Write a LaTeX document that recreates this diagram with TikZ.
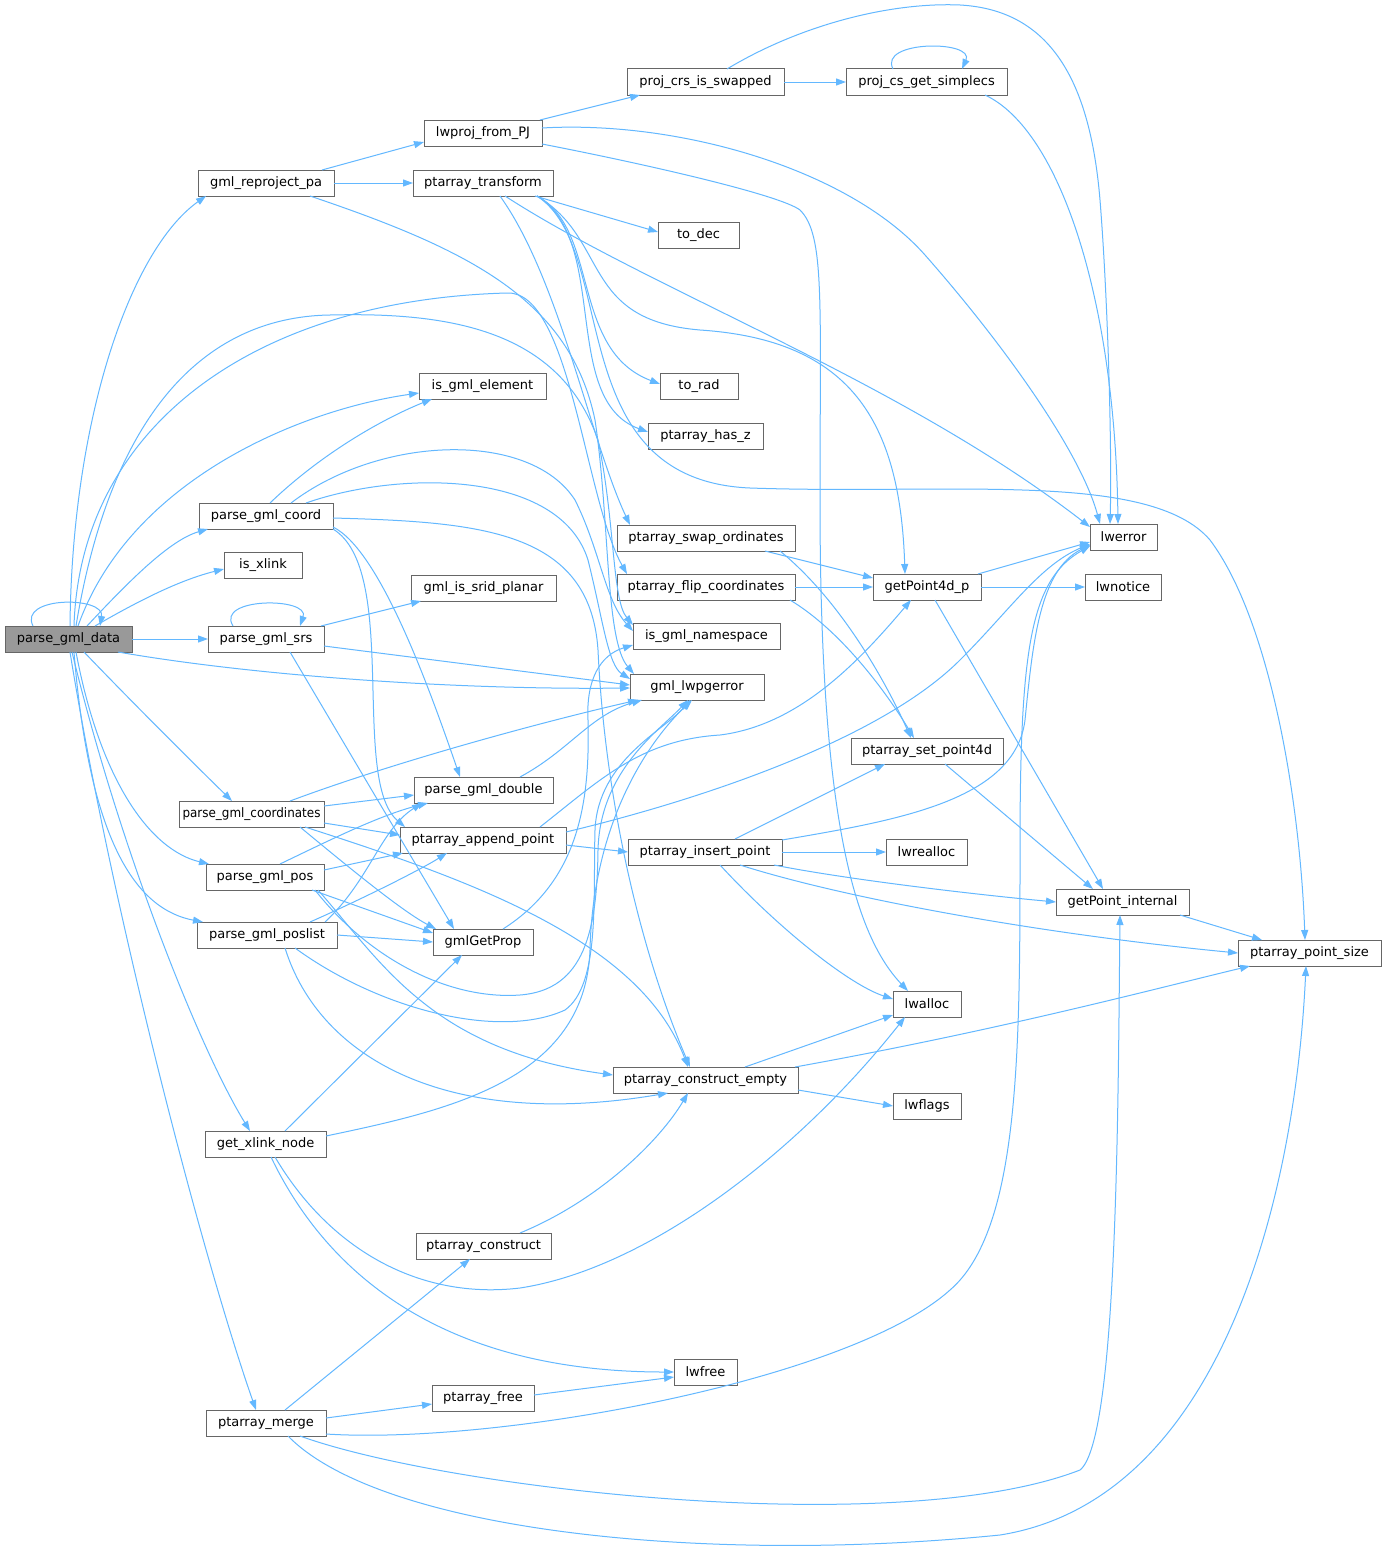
\documentclass[tikz,border=0pt]{standalone}
\usepackage{fontspec}
\setmainfont{DejaVu Sans}
\usetikzlibrary{arrows.meta,calc}
\definecolor{edgecol}{HTML}{63B8FF}
\definecolor{nodeborder}{HTML}{666666}
\definecolor{curfill}{HTML}{999999}
\tikzset{
  fn/.style={draw=nodeborder, fill=white, line width=1pt, minimum height=26pt, inner sep=0pt, outer sep=0pt, font=\fontsize{13pt}{15pt}\selectfont},
  cur/.style={fn, fill=curfill},
  e/.style={draw=edgecol, line width=1pt, -{Triangle[length=10pt,width=7pt]}},
}
\newcommand\mkfn[5]{\node[fn, minimum width=#4pt] (#1) at (#2,#3) {#5};}
\begin{document}
\begin{tikzpicture}[x=1pt,y=-1pt]
\fill[white] (0,0) rectangle (1385,1555);
\useasboundingbox (0,0) rectangle (1385,1555);
% nodes
\node[cur, minimum width=127pt] (D) at (68.5,639) {parse\_gml\_data};
\mkfn{R}{266}{183}{136}{gml\_reproject\_pa}
\mkfn{L}{483}{133}{118}{lwproj\_from\_PJ}
\mkfn{T}{483}{183}{140}{ptarray\_transform}
\mkfn{P}{705.5}{82}{157}{proj\_crs\_is\_swapped}
\mkfn{S}{926.5}{82}{161}{proj\_cs\_get\_simplecs}
\mkfn{todec}{698.5}{235}{81}{to\_dec}
\mkfn{torad}{699}{386}{78}{to\_rad}
\mkfn{hasz}{705.5}{436}{115}{ptarray\_has\_z}
\mkfn{iselem}{482.5}{386}{127}{is\_gml\_element}
\mkfn{C}{266}{516}{134}{parse\_gml\_coord}
\mkfn{xlink}{263}{565}{78}{is\_xlink}
\mkfn{planar}{483.5}{588}{145}{gml\_is\_srid\_planar}
\mkfn{SRS}{266}{639}{116}{parse\_gml\_srs}
\mkfn{SW}{706}{538}{178}{ptarray\_swap\_ordinates}
\mkfn{FL}{706}{587}{178}{ptarray\_flip\_coordinates}
\mkfn{NS}{706.5}{636}{147}{is\_gml\_namespace}
\mkfn{ERR}{697}{687}{134}{gml\_lwpgerror}
\mkfn{lwerror}{1123.5}{537}{67}{lwerror}
\mkfn{GP}{927}{587}{108}{getPoint4d\_p}
\mkfn{lwnotice}{1123}{587}{76}{lwnotice}
\mkfn{SP}{927}{751}{152}{ptarray\_set\_point4d}
\mkfn{DBL}{483.5}{790}{139}{parse\_gml\_double}
\mkfn{CO}{251.5}{814}{145}{\scalebox{0.92}[1]{parse\_gml\_coordinates}}
\mkfn{AP}{483}{840}{166}{ptarray\_append\_point}
\mkfn{IP}{705}{852}{154}{ptarray\_insert\_point}
\mkfn{lwrealloc}{926.5}{852}{81}{lwrealloc}
\mkfn{GI}{1122.5}{902}{133}{getPoint\_internal}
\mkfn{PS}{1309.5}{953}{143}{ptarray\_point\_size}
\mkfn{PO}{265}{877}{118}{parse\_gml\_pos}
\mkfn{PL}{267}{935}{140}{parse\_gml\_poslist}
\mkfn{GGP}{483}{942}{100}{gmlGetProp}
\mkfn{lwalloc}{927}{1004}{68}{lwalloc}
\mkfn{CE}{705.5}{1080}{185}{ptarray\_construct\_empty}
\mkfn{lwflags}{927}{1106}{68}{lwflags}
\mkfn{X}{265.5}{1144}{121}{get\_xlink\_node}
\mkfn{PC}{483.5}{1246}{135}{ptarray\_construct}
\mkfn{lwfree}{705.5}{1372}{63}{lwfree}
\mkfn{PF}{483}{1398}{102}{ptarray\_free}
\mkfn{M}{266}{1423}{120}{ptarray\_merge}
% edges from parse_gml_data
\draw[e] ($(D.north west)+(28,0)$) .. controls (18,596) and (105,596) .. ($(D.north west)+(95,0)$);
\draw[e] ($(D.north west)+(65,0)$) .. controls (72,420) and (130,250) .. ($(R.south west)+(8,0)$);
\draw[e] ($(D.north west)+(73,0)$) .. controls (130,480) and (300,410) .. ($(iselem.north west)+(0,20)$);
\draw[e] ($(D.north west)+(69,0)$) .. controls (80,430) and (250,300) .. (507,293) .. controls (570,290) and (585,500) .. ($(FL.north west)+(10,0)$);
\draw[e] ($(D.north west)+(71,0)$) .. controls (110,420) and (200,317) .. (330,315) .. controls (450,312) and (560,330) .. (598,440) .. controls (615,520) and (612,600) .. ($(NS.north west)+(0,2)$);
\draw[e] ($(D.south west)+(113,0)$) .. controls (250,675) and (450,690) .. ($(ERR.north west)+(0,14)$);
\draw[e] (D.east) -- (SRS.west);
\draw[e] ($(D.north west)+(90,0)$) .. controls (140,600) and (180,580) .. ($(xlink.north west)+(0,17)$);
\draw[e] ($(D.north west)+(82,0)$) .. controls (130,580) and (170,540) .. ($(C.south west)+(9,0)$);
\draw[e] ($(D.south west)+(79,0)$) .. controls (130,700) and (190,760) .. ($(CO.north west)+(53,0)$);
\draw[e] ($(D.south west)+(71,0)$) .. controls (100,780) and (150,850) .. ($(PO.north west)+(3,0)$);
\draw[e] ($(D.south west)+(69,0)$) .. controls (90,850) and (140,910) .. ($(PL.north west)+(6,0)$);
\draw[e] ($(D.south west)+(67,0)$) .. controls (120,850) and (200,1050) .. ($(X.north west)+(45,0)$);
\draw[e] ($(D.south west)+(65,0)$) .. controls (110,900) and (200,1250) .. ($(M.north west)+(50,0)$);
% gml_reproject_pa
\draw[e] ($(R.north west)+(124,0)$) -- ($(L.south west)+(0,-4)$);
\draw[e] (R.east) -- (T.west);
\draw[e] ($(R.south west)+(112,0)$) .. controls (470,250) and (570,300) .. (595,420) .. controls (610,520) and (605,640) .. ($(ERR.north west)+(4,0)$);
% lwproj_from_PJ
\draw[e] ($(L.north east)+(-2,0)$) -- ($(P.south west)+(13,0)$);
\draw[e] ($(L.north east)+(0,8)$) .. controls (680,120) and (850,170) .. (925,255) .. controls (1000,340) and (1080,450) .. ($(lwerror.north west)+(10,0)$);
\draw[e] ($(L.south east)+(0,-2)$) .. controls (650,165) and (780,195) .. (800,210) .. controls (825,235) and (820,300) .. (820,500) .. controls (820,800) and (850,930) .. ($(lwalloc.north west)+(15,0)$);
% proj_crs_is_swapped
\draw[e] (P.east) -- (S.west);
\draw[e] ($(P.north west)+(100,0)$) .. controls (800,25) and (890,2) .. (960,5) .. controls (1050,10) and (1090,80) .. (1100,200) .. controls (1108,300) and (1112,450) .. ($(lwerror.north west)+(20,0)$);
% proj_cs_get_simplecs
\draw[e] ($(S.north west)+(47,0)$) .. controls (878,40) and (975,40) .. ($(S.north west)+(116,0)$);
\draw[e] ($(S.south west)+(139,0)$) .. controls (1060,130) and (1115,300) .. ($(lwerror.north west)+(28,0)$);
% ptarray_transform
\draw[e] ($(T.south west)+(122,0)$) -- ($(todec.north west)+(0,10)$);
\draw[e] ($(T.south west)+(124,0)$) .. controls (600,230) and (570,350) .. ($(torad.north west)+(0,11)$);
\draw[e] ($(T.south west)+(124,0)$) .. controls (610,240) and (560,400) .. ($(hasz.north west)+(0,9)$);
\draw[e] ($(T.south west)+(124,0)$) .. controls (620,250) and (560,480) .. (750,488) .. controls (950,495) and (1150,470) .. (1210,540) .. controls (1270,620) and (1300,800) .. ($(PS.north west)+(67,0)$);
\draw[e] ($(T.south west)+(124,0)$) .. controls (610,240) and (580,320) .. (700,330) .. controls (850,340) and (900,420) .. ($(GP.north west)+(32,0)$);
\draw[e] ($(T.south west)+(92,0)$) .. controls (650,290) and (900,380) .. ($(lwerror.north west)+(0,3)$);
\draw[e] ($(T.south west)+(87,0)$) .. controls (560,280) and (590,440) .. ($(SW.north west)+(13,0)$);
% parse_gml_coord
\draw[e] ($(C.north west)+(71,0)$) .. controls (320,455) and (380,420) .. ($(iselem.south west)+(13,0)$);
\draw[e] ($(C.north west)+(92,0)$) .. controls (380,435) and (530,430) .. (575,500) .. controls (600,550) and (605,600) .. ($(NS.north west)+(0,8)$);
\draw[e] ($(C.north west)+(107,0)$) .. controls (400,470) and (560,470) .. (588,560) .. controls (603,620) and (608,665) .. ($(ERR.north west)+(0,5)$);
\draw[e] ($(C.north east)+(0,15)$) .. controls (480,522) and (590,530) .. (598,650) .. controls (605,800) and (640,950) .. ($(CE.north west)+(77,0)$);
\draw[e] ($(C.south east)+(0,-2)$) .. controls (380,550) and (430,690) .. ($(DBL.north west)+(46,0)$);
\draw[e] (C.south east) .. controls (400,570) and (350,780) .. ($(AP.north west)+(5,0)$);
% parse_gml_srs
\draw[e] ($(SRS.north west)+(25,0)$) .. controls (215,597) and (310,597) .. ($(SRS.north west)+(92,0)$);
\draw[e] ($(SRS.north east)+(-3,0)$) -- ($(planar.south west)+(10,0)$);
\draw[e] ($(SRS.north east)+(0,20)$) -- ($(ERR.north west)+(0,11)$);
\draw[e] ($(SRS.south west)+(82,0)$) -- ($(GGP.north west)+(21,0)$);
% parse_gml_coordinates
\draw[e] ($(CO.north west)+(111,0)$) .. controls (400,760) and (550,720) .. ($(ERR.south west)+(8,0)$);
\draw[e] ($(CO.north east)+(0,5)$) -- ($(DBL.north west)+(0,18)$);
\draw[e] ($(CO.south east)+(0,-4)$) -- ($(AP.north west)+(0,8)$);
\draw[e] ($(CO.south west)+(121,0)$) .. controls (340,860) and (400,910) .. ($(GGP.north west)+(3,0)$);
\draw[e] ($(CO.south west)+(126,0)$) .. controls (470,880) and (640,940) .. ($(CE.north west)+(75,0)$);
% parse_gml_pos
\draw[e] ($(PO.north west)+(74,0)$) .. controls (330,840) and (380,815) .. ($(DBL.south west)+(14,0)$);
\draw[e] ($(PO.north east)+(0,6)$) -- ($(AP.south west)+(3,0)$);
\draw[e] ($(PO.south west)+(106,0)$) -- ($(GGP.north west)+(0,4)$);
\draw[e] ($(PO.south west)+(109,0)$) .. controls (370,960) and (450,1000) .. (520,995) .. controls (585,990) and (597,930) .. (598,850) .. controls (600,770) and (660,730) .. ($(ERR.south west)+(58,0)$);
\draw[e] ($(PO.south west)+(112,0)$) .. controls (380,960) and (430,1050) .. ($(CE.north west)+(0,8)$);
% parse_gml_poslist
\draw[e] ($(PL.north west)+(128,0)$) .. controls (370,880) and (380,830) .. ($(DBL.south west)+(8,0)$);
\draw[e] ($(PL.north west)+(113,0)$) .. controls (360,900) and (420,870) .. ($(AP.south west)+(47,0)$);
\draw[e] (PL.east) -- (GGP.west);
\draw[e] ($(PL.south west)+(98,0)$) .. controls (380,1010) and (500,1040) .. (565,1010) .. controls (600,985) and (593,900) .. (595,830) .. controls (598,760) and (665,730) .. ($(ERR.south west)+(60,0)$);
\draw[e] ($(PL.south west)+(88,0)$) .. controls (320,1060) and (450,1130) .. ($(CE.south west)+(55,0)$);
% gmlGetProp
\draw[e] ($(GGP.north west)+(70,0)$) .. controls (580,880) and (590,800) .. (588,720) .. controls (586,680) and (600,655) .. ($(NS.south west)+(0,-4)$);
% get_xlink_node
\draw[e] ($(X.north west)+(80,0)$) -- ($(GGP.south west)+(29,0)$);
\draw[e] ($(X.north east)+(0,5)$) .. controls (450,1110) and (585,1080) .. (590,950) .. controls (593,820) and (650,740) .. ($(ERR.south west)+(62,0)$);
\draw[e] ($(X.south west)+(70,0)$) .. controls (330,1250) and (420,1300) .. (520,1288) .. controls (650,1268) and (800,1150) .. ($(lwalloc.south west)+(12,0)$);
\draw[e] ($(X.south west)+(66,0)$) .. controls (330,1280) and (450,1372) .. (lwfree.west);
% ptarray_merge
\draw[e] ($(M.north west)+(79,0)$) -- ($(PC.south west)+(54,0)$);
\draw[e] ($(M.north east)+(0,8)$) -- ($(PF.south west)+(0,-7)$);
\draw[e] ($(M.south east)+(0,-2)$) .. controls (500,1445) and (850,1380) .. (950,1290) .. controls (1020,1230) and (1020,1050) .. (1020,850) .. controls (1020,650) and (1030,580) .. ($(lwerror.south west)+(0,-4)$);
\draw[e] ($(M.south west)+(94,0)$) .. controls (450,1490) and (900,1540) .. (1080,1470) .. controls (1118,1440) and (1118,1100) .. ($(GI.south west)+(64,0)$);
\draw[e] ($(M.south west)+(82,0)$) .. controls (380,1530) and (700,1565) .. (1000,1535) .. controls (1220,1500) and (1295,1200) .. ($(PS.south west)+(68,0)$);
% ptarray_construct, ptarray_free
\draw[e] ($(PC.north west)+(104,0)$) .. controls (600,1200) and (660,1140) .. ($(CE.south west)+(75,0)$);
\draw[e] ($(PF.north east)+(0,10)$) -- ($(lwfree.south west)+(0,-8)$);
% ptarray_append_point
\draw[e] ($(AP.south east)+(0,-8)$) -- (IP.west);
\draw[e] ($(AP.north west)+(140,0)$) .. controls (600,780) and (640,740) .. (720,735) .. controls (800,725) and (860,660) .. ($(GP.south west)+(38,0)$);
\draw[e] ($(AP.north east)+(0,5)$) .. controls (700,800) and (880,740) .. (960,660) .. controls (1010,610) and (1040,565) .. ($(lwerror.south west)+(0,-6)$);
% ptarray_insert_point
\draw[e] (IP.east) -- (lwrealloc.west);
\draw[e] ($(IP.north west)+(107,0)$) -- ($(SP.south west)+(34,0)$);
\draw[e] ($(IP.north east)+(0,1)$) .. controls (900,820) and (1015,800) .. (1025,720) .. controls (1033,640) and (1040,570) .. ($(lwerror.south west)+(0,-5)$);
\draw[e] ($(IP.south east)+(-8,0)$) .. controls (850,880) and (980,895) .. (GI.west);
\draw[e] ($(IP.south west)+(112,0)$) .. controls (850,900) and (1050,935) .. (PS.west);
\draw[e] ($(IP.south west)+(92,0)$) .. controls (780,930) and (850,985) .. ($(lwalloc.north west)+(0,8)$);
% swap / flip
\draw[e] ($(SW.south west)+(148,0)$) -- ($(GP.north west)+(0,4)$);
\draw[e] ($(SW.south west)+(163,0)$) .. controls (840,600) and (885,680) .. ($(SP.north west)+(60,0)$);
\draw[e] (FL.east) -- (GP.west);
\draw[e] ($(FL.south west)+(173,0)$) .. controls (840,630) and (885,690) .. ($(SP.north west)+(63,0)$);
% getPoint4d_p etc
\draw[e] ($(GP.north east)+(-3,0)$) -- ($(lwerror.north west)+(0,18)$);
\draw[e] (GP.east) -- (lwnotice.west);
\draw[e] ($(GP.south west)+(62,0)$) -- ($(GI.north west)+(47,0)$);
\draw[e] ($(SP.south west)+(94,0)$) -- ($(GI.north west)+(37,0)$);
\draw[e] ($(GI.south east)+(-9,0)$) -- ($(PS.north west)+(24,0)$);
% ptarray_construct_empty
\draw[e] ($(CE.north west)+(132,0)$) -- ($(lwalloc.south west)+(0,-2)$);
\draw[e] ($(CE.north east)+(-3,0)$) .. controls (1000,1030) and (1150,990) .. ($(PS.south west)+(12,0)$);
\draw[e] ($(CE.south east)+(0,-3)$) -- (lwflags.west);
% parse_gml_double
\draw[e] ($(DBL.north west)+(106,0)$) .. controls (570,750) and (590,715) .. ($(ERR.south west)+(12,0)$);
\end{tikzpicture}
\end{document}
